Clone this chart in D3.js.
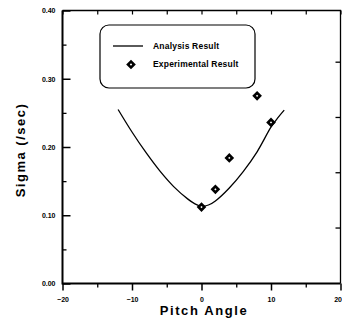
<!DOCTYPE html>
<html>
<head>
<meta charset="utf-8">
<script src="https://cdn.jsdelivr.net/npm/d3@7"></script>
<style>
  body { margin: 0; background: #fff; }
  svg { display: block; }
  text { font-family: "Liberation Sans", Arial, sans-serif; font-weight: bold; fill: #000; }
</style>
</head>
<body>
<svg width="342" height="324"></svg>
<script>
// values
const yMajor = [0, 0.1, 0.2, 0.3, 0.4]
const yMinor = [0.05, 0.15, 0.25, 0.35]
const xMajor = [-20, -10, 0, 10, 20]
const xMinor = [-15, -5, 5, 15]
const rightTicks = [0.082, 0.163, 0.244, 0.325]

const curveX = [-12, -10, -8, -6, -4, -2, -1, 0, 1, 2, 4, 6, 8, 10, 11, 11.9]
const curveY = [0.255, 0.222, 0.192, 0.165, 0.142, 0.124, 0.117, 0.113, 0.115, 0.121, 0.140, 0.164, 0.193, 0.229, 0.243, 0.254]

const expX = [0, 2, 4, 8, 10]
const expY = [0.112, 0.138, 0.184, 0.275, 0.236]

const svg = d3.select("svg")

const x = d3.scaleLinear().domain([-20, 20]).range([62.5, 340.5])
const y = d3.scaleLinear().domain([0, 0.4]).range([283.5, 10.5])

const tickFont = g => g.selectAll("text")
  .style("font-size", "7px")
  .style("font-family", "'Liberation Sans', Arial, sans-serif")
  .style("font-weight", "bold")

// left axis, ticks pointing in
svg.append("g")
  .attr("transform", `translate(${x.range()[0]},0)`)
  .call(d3.axisLeft(y).tickValues(yMajor).tickSize(-8).tickSizeOuter(0)
    .tickPadding(7).tickFormat(d3.format(".2f")))
  .call(g => g.select(".domain").remove())
  .call(g => g.selectAll("line").attr("stroke-width", 1.5))
  .call(tickFont)

svg.append("g")
  .attr("transform", `translate(${x.range()[0]},0)`)
  .call(d3.axisLeft(y).tickValues(yMinor).tickSize(-4).tickFormat(""))
  .call(g => g.select(".domain").remove())
  .call(g => g.selectAll("line").attr("stroke-width", 1.3))

// bottom axis, ticks pointing out
svg.append("g")
  .attr("transform", `translate(0,${y.range()[0]})`)
  .call(d3.axisBottom(x).tickValues(xMajor).tickSize(7).tickSizeOuter(0)
    .tickPadding(7).tickFormat(d3.format("d")))
  .call(g => g.select(".domain").remove())
  .call(g => g.selectAll("line").attr("stroke-width", 1.5))
  .call(tickFont)
  // last label sits on the window edge, keep it inside
  .call(g => g.selectAll("text").filter(d => d === 20).attr("text-anchor", "end").attr("dx", 1))

svg.append("g")
  .attr("transform", `translate(0,${y.range()[0]})`)
  .call(d3.axisBottom(x).tickValues(xMinor).tickSize(4).tickFormat(""))
  .call(g => g.select(".domain").remove())
  .call(g => g.selectAll("line").attr("stroke-width", 1.3))

// top and right, short inward ticks
svg.append("g")
  .attr("transform", `translate(0,${y.range()[1]})`)
  .call(d3.axisTop(x).tickValues(xMinor.concat(xMajor)).tickSize(-4).tickFormat(""))
  .call(g => g.select(".domain").remove())
  .call(g => g.selectAll("line").attr("stroke-width", 1.2))

svg.append("g")
  .attr("transform", `translate(${x.range()[1]},0)`)
  .call(d3.axisRight(y).tickValues(rightTicks).tickSize(-5).tickFormat(""))
  .call(g => g.select(".domain").remove())
  .call(g => g.selectAll("line").attr("stroke-width", 1.3))

// frame
svg.append("path")
  .attr("fill", "none")
  .attr("stroke", "#000")
  .attr("stroke-width", 1.3)
  .attr("d", `M${x(-20)},${y(0.4)}H${x(20)}V${y(0)}`)
svg.append("path")
  .attr("fill", "none")
  .attr("stroke", "#000")
  .attr("stroke-width", 2)
  .attr("d", `M${x(-20)},${y(0.4)}V${y(0)}H${x(20)}`)

// axis titles
svg.append("text")
  .attr("transform", "translate(25,150) rotate(-90)")
  .attr("text-anchor", "middle")
  .style("font-size", "13px")
  .style("letter-spacing", "1.5px")
  .text("Sigma (/sec)")

svg.append("text")
  .attr("x", 204)
  .attr("y", 314.5)
  .attr("text-anchor", "middle")
  .style("font-size", "13px")
  .style("letter-spacing", "1.6px")
  .text("Pitch Angle")

// analysis curve
const curve = curveX.map((d, i) => [d, curveY[i]])
svg.append("path")
  .datum(curve)
  .attr("fill", "none")
  .attr("stroke", "#000")
  .attr("stroke-width", 1.3)
  .attr("d", d3.line().x(d => x(d[0])).y(d => y(d[1])).curve(d3.curveCatmullRom))

// experiment points
const diamond = d3.symbol().type(d3.symbolSquare).size(18)
svg.append("g")
  .selectAll("path")
  .data(expX.map((d, i) => [d, expY[i]]))
  .join("path")
  .attr("d", diamond)
  .attr("transform", d => `translate(${x(d[0])},${y(d[1])}) rotate(45)`)
  .attr("fill", "#fff")
  .attr("stroke", "#000")
  .attr("stroke-width", 2.6)

// legend
const legend = svg.append("g")
legend.append("rect")
  .attr("x", 100).attr("y", 25)
  .attr("width", 155).attr("height", 63)
  .attr("rx", 9)
  .attr("fill", "none")
  .attr("stroke", "#000")
  .attr("stroke-width", 1.2)
legend.append("line")
  .attr("x1", 113).attr("x2", 143)
  .attr("y1", 46).attr("y2", 46)
  .attr("stroke", "#000")
  .attr("stroke-width", 1.3)
legend.append("path")
  .attr("d", diamond)
  .attr("transform", "translate(131,64.5) rotate(45)")
  .attr("fill", "#fff")
  .attr("stroke", "#000")
  .attr("stroke-width", 2.6)
legend.selectAll("text")
  .data(["Analysis Result", "Experimental Result"])
  .join("text")
  .attr("x", 153)
  .attr("y", (d, i) => 46 + i * 18.5)
  .attr("dy", "0.35em")
  .style("font-size", "8.5px")
  .style("letter-spacing", "0.2px")
  .text(d => d)
</script>
</body>
</html>
